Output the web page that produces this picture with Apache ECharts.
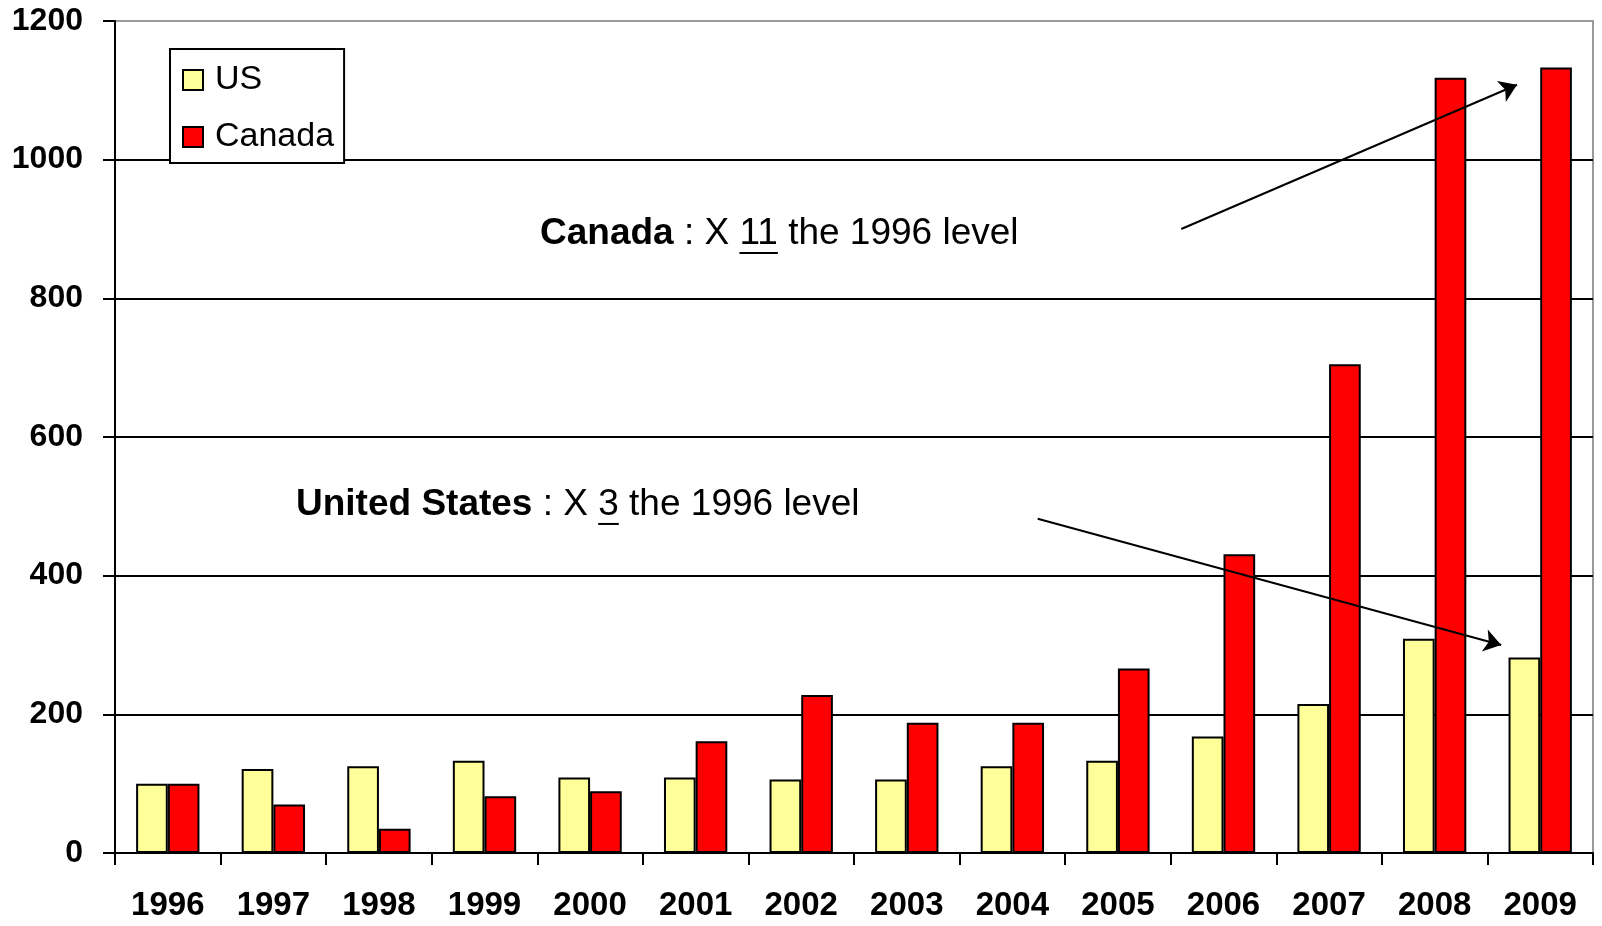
<!DOCTYPE html>
<html>
<head>
<meta charset="utf-8">
<title>US and Canada, 1996–2009</title>
<script src="https://cdn.jsdelivr.net/npm/echarts@6/dist/echarts.min.js"></script>
<style>
  html, body { margin: 0; padding: 0; background: #fff; }
  #chart { width: 1602px; height: 926px; }
</style>
</head>
<body>
<div id="chart"></div>
<script>
// ---- data ----
const years = ['1996', '1997', '1998', '1999', '2000', '2001', '2002',
               '2003', '2004', '2005', '2006', '2007', '2008', '2009'];
const usValues     = [100, 121, 125, 133, 109, 109, 106, 106, 125, 133, 168, 215, 309, 282];
const canadaValues = [100, 70, 35, 82, 89, 161, 228, 188, 188, 266, 431, 705, 1118, 1133];
const yMin = 0;
const yMax = 1200;
const yStep = 200;

// Arrow endpoints in data space: [category position, value]
const canadaArrow = [[9.6, 900], [12.78, 1108]];
const usArrow     = [[8.24, 482], [12.63, 300]];

// Annotation lines: segments of text, bold / underlined parts flagged
const canadaNote = [
  { t: 'Canada', bold: true },
  { t: ' : X ' },
  { t: '11', underline: true },
  { t: ' the 1996 level' }
];
const usNote = [
  { t: 'United States', bold: true },
  { t: ' : X ' },
  { t: '3', underline: true },
  { t: ' the 1996 level' }
];

// ---- chart ----
const FONT = '"Liberation Sans", Arial, Helvetica, sans-serif';
const chart = echarts.init(document.getElementById('chart'), null, { renderer: 'canvas' });

const option = {
  animation: false,
  backgroundColor: '#fff',
  grid: {
    left: 115, right: 9, top: 21, bottom: 73,
    show: true, borderColor: '#9a9a9a', borderWidth: 2, backgroundColor: 'transparent'
  },
  legend: {
    orient: 'vertical',
    left: 170, top: 49,
    data: ['US', 'Canada'],
    icon: 'rect',
    itemWidth: 20, itemHeight: 20, itemGap: 23,
    padding: [14, 10, 9, 12],
    borderColor: '#000', borderWidth: 2,
    backgroundColor: '#fff',
    itemStyle: { borderColor: '#000', borderWidth: 2 },
    textStyle: { fontSize: 34, color: '#000', fontFamily: FONT, padding: [0, 0, 0, 7] }
  },
  xAxis: [
    {
      type: 'category',
      data: years,
      boundaryGap: true,
      axisLine: { show: true, onZero: false, lineStyle: { color: '#000', width: 2 } },
      axisTick: { show: true, alignWithLabel: false, length: 12, lineStyle: { color: '#000', width: 2 } },
      axisLabel: { margin: 36, fontSize: 33, fontWeight: 'bold', color: '#000', fontFamily: FONT, interval: 0 },
      splitLine: { show: false }
    },
    {
      // helper axis for placing the annotation arrows
      type: 'value',
      min: -0.5, max: 13.5,
      show: false,
      axisLine: { show: false, onZero: false },
      splitLine: { show: false }
    }
  ],
  yAxis: {
    type: 'value',
    min: yMin, max: yMax, interval: yStep,
    axisLine: { show: true, onZero: false, lineStyle: { color: '#000', width: 2 } },
    axisTick: { show: true, length: 12, lineStyle: { color: '#000', width: 2 } },
    axisLabel: {
      margin: 32, fontSize: 32, fontWeight: 'bold', color: '#000', fontFamily: FONT,
      formatter: function (v) { return String(v); }
    },
    splitLine: { show: true, showMaxLine: false, lineStyle: { color: '#000', width: 2 } }
  },
  series: [
    {
      name: 'US',
      type: 'bar',
      data: usValues,
      barGap: '0%',
      barCategoryGap: '40%',
      itemStyle: { color: '#FFFF99', borderColor: '#000', borderWidth: 2 }
    },
    {
      name: 'Canada',
      type: 'bar',
      data: canadaValues,
      barGap: '0%',
      barCategoryGap: '40%',
      itemStyle: { color: '#FF0000', borderColor: '#000', borderWidth: 2 }
    },
    {
      name: 'arrows',
      type: 'lines',
      coordinateSystem: 'cartesian2d',
      xAxisIndex: 1,
      yAxisIndex: 0,
      symbol: ['none', 'arrow'],
      symbolSize: 17,
      silent: true,
      z: 5,
      lineStyle: { color: '#000', width: 2, opacity: 1, curveness: 0 },
      data: [
        { coords: canadaArrow },
        { coords: usArrow }
      ]
    }
  ]
};

// Lay out a text line made of styled segments, with underlines where flagged
const measureCtx = document.createElement('canvas').getContext('2d');
function noteGraphics(segments, left, middleY, size) {
  const els = [];
  let x = left;
  segments.forEach(function (seg) {
    const font = (seg.bold ? 'bold ' : '') + size + 'px ' + FONT;
    measureCtx.font = font;
    const w = measureCtx.measureText(seg.t).width;
    els.push({
      type: 'text',
      x: x, y: middleY,
      z: 10,
      style: { text: seg.t, font: font, fill: '#000', textAlign: 'left', textVerticalAlign: 'middle', verticalAlign: 'middle' }
    });
    if (seg.underline) {
      els.push({
        type: 'rect',
        z: 10,
        shape: { x: x, y: middleY + size * 0.35 + 5, width: w, height: 2 },
        style: { fill: '#000' }
      });
    }
    x += w;
  });
  return els;
}

option.graphic = [].concat(
  noteGraphics(canadaNote, 540, 234, 37),
  noteGraphics(usNote, 296, 505, 37)
);

chart.setOption(option);
</script>
</body>
</html>
